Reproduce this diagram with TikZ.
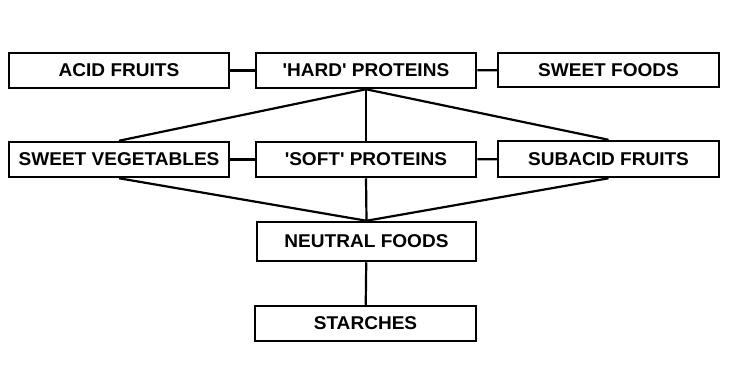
\documentclass[tikz,border=0pt]{standalone}
\usepackage{fontspec}
\setmainfont{Liberation Sans}[FakeStretch=1.03]
\newcommand{\sq}{\textquotesingle}
\begin{document}
\begin{tikzpicture}[x=1pt,y=-1pt,
  box/.style={draw=black,line width=2.5pt,fill=white,inner sep=0pt,
    minimum width=220pt,minimum height=35pt,font=\fontsize{18.5}{20}\selectfont\bfseries},
  link/.style={draw=black,line width=2.2pt}]
\useasboundingbox[fill=white] (0,0) rectangle (738,381);
\node[box] (acid) at (119,70.5) {ACID FRUITS};
\node[box] (hard) at (366,70.5) {\sq HARD\sq{} PROTEINS};
\node[box,minimum width=221pt,minimum height=34pt] (sweetf) at (608.5,70) {SWEET FOODS};
\node[box] (veg) at (119,159.5) {SWEET VEGETABLES};
\node[box] (soft) at (366,159.5) {\sq SOFT\sq{} PROTEINS};
\node[box,minimum width=221pt,minimum height=36pt] (subacid) at (608.5,159) {SUBACID FRUITS};
\node[box,minimum width=219pt,minimum height=39pt] (neutral) at (366.5,241.5) {NEUTRAL FOODS};
\node[box,minimum width=221pt] (starch) at (365.5,323.5) {STARCHES};
\draw[link] (acid) -- (hard);
\draw[link] (hard) -- (sweetf);
\draw[link] (veg) -- (soft);
\draw[link] (soft) -- (subacid);
\draw[link] (hard.south) -- (veg.north);
\draw[link] (hard.south) -- (soft.north);
\draw[link] (hard.south) -- (subacid.north);
\draw[link] (veg.south) -- (neutral.north);
\draw[link] (soft.south) -- (neutral.north);
\draw[link] (subacid.south) -- (neutral.north);
\draw[link] (neutral) -- (starch);
\end{tikzpicture}
\end{document}
